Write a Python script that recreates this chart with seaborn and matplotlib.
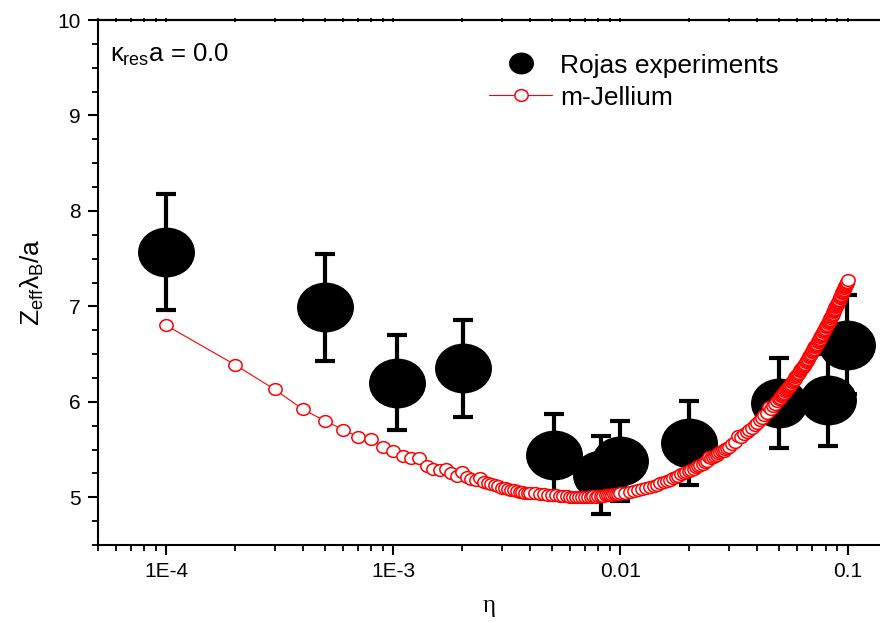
import matplotlib
matplotlib.use("Agg")
import matplotlib.pyplot as plt
import seaborn as sns
from matplotlib.path import Path
from matplotlib.transforms import Affine2D
from matplotlib.lines import Line2D
from matplotlib.ticker import LogLocator, MultipleLocator, NullFormatter

# ---------------- data ----------------
# Rojas experiments
eta_exp = [1.0e-4, 5.0e-4, 1.04e-3, 2.03e-3, 5.1e-3, 8.2e-3, 1.0e-2, 2.0e-2, 5.0e-2, 8.2e-2, 9.9e-2]
z_exp = [7.57, 6.99, 6.20, 6.35, 5.44, 5.23, 5.38, 5.57, 5.99, 6.02, 6.60]
err_exp = [0.61, 0.56, 0.50, 0.51, 0.43, 0.41, 0.42, 0.44, 0.47, 0.48, 0.52]

# m-Jellium curve (segment by segment)
eta_a = [0.0001, 0.0002, 0.0003, 0.0004, 0.0005, 0.0006, 0.0007, 0.0008, 0.0009, 0.0010,
         0.0011, 0.0012, 0.0013, 0.0014, 0.0015, 0.0016, 0.0017, 0.0018, 0.0019, 0.0020]
z_a = [6.80, 6.39, 6.13, 5.92, 5.80, 5.71, 5.63, 5.61, 5.53, 5.48,
       5.43, 5.41, 5.41, 5.33, 5.30, 5.29, 5.30, 5.25, 5.22, 5.27]

eta_b = [0.0021, 0.0022, 0.0023, 0.0024, 0.0025, 0.0026, 0.0027, 0.0028, 0.0029, 0.0030,
         0.0031, 0.0032, 0.0033, 0.0034, 0.0035, 0.0036, 0.0037, 0.0038, 0.0039, 0.0040]
z_b = [5.21, 5.19, 5.18, 5.20, 5.16, 5.15, 5.14, 5.13, 5.12, 5.10,
       5.10, 5.09, 5.08, 5.08, 5.07, 5.06, 5.06, 5.05, 5.05, 5.04]

eta_c = [0.0042, 0.0044, 0.0046, 0.0048, 0.0050, 0.0052, 0.0054, 0.0056, 0.0058, 0.0060,
         0.0062, 0.0064, 0.0066, 0.0068, 0.0070, 0.0072, 0.0074, 0.0076, 0.0078, 0.0080,
         0.0082, 0.0084, 0.0086, 0.0088, 0.0090, 0.0092, 0.0094, 0.0096, 0.0098, 0.0100]
z_c = [5.04, 5.03, 5.03, 5.02, 5.02, 5.02, 5.01, 5.01, 5.01, 5.00,
       5.00, 5.00, 5.00, 5.00, 5.00, 5.00, 5.00, 5.01, 5.00, 5.01,
       5.01, 5.01, 5.02, 5.02, 5.02, 5.02, 5.03, 5.03, 5.03, 5.04]

eta_d = [0.0105, 0.0110, 0.0115, 0.0120, 0.0125, 0.0130, 0.0135, 0.0140, 0.0145, 0.0150,
         0.0155, 0.0160, 0.0165, 0.0170, 0.0175, 0.0180, 0.0185, 0.0190, 0.0195, 0.0200,
         0.0205, 0.0210, 0.0215, 0.0220, 0.0225, 0.0230, 0.0235, 0.0240, 0.0245, 0.0250,
         0.0255, 0.0260, 0.0265, 0.0270, 0.0275, 0.0280, 0.0285, 0.0290, 0.0295, 0.0300]
z_d = [5.05, 5.06, 5.07, 5.08, 5.09, 5.10, 5.11, 5.12, 5.13, 5.15,
       5.16, 5.17, 5.18, 5.20, 5.21, 5.22, 5.24, 5.25, 5.26, 5.28,
       5.29, 5.30, 5.32, 5.33, 5.34, 5.35, 5.37, 5.38, 5.42, 5.41,
       5.42, 5.43, 5.44, 5.46, 5.47, 5.48, 5.49, 5.51, 5.52, 5.53]

eta_e = [0.031, 0.032, 0.033, 0.034, 0.035, 0.036, 0.037, 0.038, 0.039, 0.040,
         0.041, 0.042, 0.043, 0.044, 0.045, 0.046, 0.047, 0.048, 0.049, 0.050]
z_e = [5.56, 5.58, 5.64, 5.63, 5.66, 5.68, 5.71, 5.73, 5.76, 5.78,
       5.81, 5.83, 5.86, 5.88, 5.95, 5.93, 5.96, 5.98, 6.01, 6.03]

eta_f = [0.0505, 0.0510, 0.0515, 0.0520, 0.0525, 0.0530, 0.0535, 0.0540, 0.0545, 0.0550,
         0.0555, 0.0560, 0.0565, 0.0570, 0.0575, 0.0580, 0.0585, 0.0590, 0.0595, 0.0600,
         0.0605, 0.0610, 0.0615, 0.0620, 0.0625, 0.0630, 0.0635, 0.0640, 0.0645, 0.0650,
         0.0655, 0.0660, 0.0665, 0.0670, 0.0675, 0.0680, 0.0685, 0.0690, 0.0695, 0.0700,
         0.0705, 0.0710, 0.0715, 0.0720, 0.0725, 0.0730, 0.0735, 0.0740, 0.0745, 0.0750,
         0.0755, 0.0760, 0.0765, 0.0770, 0.0775, 0.0780, 0.0785, 0.0790, 0.0795, 0.0800,
         0.0805, 0.0810, 0.0815, 0.0820, 0.0825, 0.0830, 0.0835, 0.0840, 0.0845, 0.0850,
         0.0855, 0.0860, 0.0865, 0.0870, 0.0875, 0.0880, 0.0885, 0.0890, 0.0895, 0.0900,
         0.0905, 0.0910, 0.0915, 0.0920, 0.0925, 0.0930, 0.0935, 0.0940, 0.0945, 0.0950,
         0.0955, 0.0960, 0.0965, 0.0970, 0.0975, 0.0980, 0.0985, 0.0990, 0.0995, 0.1000]
z_f = [6.04, 6.06, 6.07, 6.08, 6.09, 6.11, 6.12, 6.13, 6.14, 6.16,
       6.17, 6.18, 6.19, 6.21, 6.22, 6.23, 6.24, 6.26, 6.27, 6.28,
       6.29, 6.30, 6.32, 6.33, 6.34, 6.35, 6.37, 6.38, 6.39, 6.40,
       6.42, 6.43, 6.44, 6.45, 6.47, 6.48, 6.49, 6.50, 6.52, 6.53,
       6.54, 6.55, 6.57, 6.58, 6.59, 6.60, 6.61, 6.63, 6.64, 6.65,
       6.66, 6.68, 6.69, 6.70, 6.71, 6.73, 6.74, 6.75, 6.76, 6.78,
       6.79, 6.80, 6.81, 6.83, 6.84, 6.85, 6.86, 6.88, 6.89, 6.90,
       6.91, 6.92, 6.94, 6.95, 6.96, 6.97, 6.99, 7.00, 7.01, 7.02,
       7.04, 7.05, 7.06, 7.07, 7.09, 7.10, 7.11, 7.12, 7.14, 7.15,
       7.16, 7.17, 7.19, 7.20, 7.21, 7.22, 7.23, 7.25, 7.26, 7.28]

eta_jel = eta_a + eta_b + eta_c + eta_d + eta_e + eta_f
z_jel = z_a + z_b + z_c + z_d + z_e + z_f

x_ticks = [1e-4, 1e-3, 1e-2, 1e-1]
x_ticklabels = ["1E-4", "1E-3", "0.01", "0.1"]
y_ticks = [5, 6, 7, 8, 9, 10]

# ---------------- style ----------------
sns.set_style("ticks")
plt.rcParams["font.family"] = ["Liberation Sans", "DejaVu Sans"]
plt.rcParams["mathtext.fontset"] = "custom"
plt.rcParams["mathtext.rm"] = "Liberation Sans"
plt.rcParams["mathtext.it"] = "Liberation Sans"
plt.rcParams["mathtext.bf"] = "Liberation Sans:bold"
plt.rcParams["axes.edgecolor"] = "black"
plt.rcParams["xtick.color"] = "black"
plt.rcParams["ytick.color"] = "black"
plt.rcParams["text.color"] = "black"
plt.rcParams["axes.labelcolor"] = "black"

fig = plt.figure(figsize=(8.8, 6.22), dpi=100)
ax = fig.add_axes([98 / 880, 1 - 545 / 622, 1 - 98 / 880, (545 - 20) / 622])

# elliptical markers (source image is slightly stretched horizontally)
ell_big = Path.unit_circle().transformed(Affine2D().scale(1.0, 0.875))
ell_small = Path.unit_circle().transformed(Affine2D().scale(1.0, 0.88))

ax.errorbar(eta_exp, z_exp, yerr=err_exp, fmt="none", ecolor="black",
            elinewidth=3.0, capsize=7.5, capthick=3.0, zorder=2)
sns.scatterplot(x=eta_exp, y=z_exp, marker=ell_big, s=41 ** 2, color="black",
                edgecolor="black", linewidth=0, zorder=3, ax=ax, legend=False)
sns.lineplot(x=eta_jel, y=z_jel, sort=False, estimator=None, color="red",
             linewidth=0.8, marker=ell_small, markersize=9.6,
             markerfacecolor="white", markeredgecolor="red", markeredgewidth=1.1,
             zorder=4, ax=ax, legend=False)

ax.set_xscale("log")
ax.set_xlim(5e-5, 0.139)
ax.set_ylim(4.5, 10)
ax.set_xticks(x_ticks, x_ticklabels)
ax.xaxis.set_minor_locator(LogLocator(base=10, subs=[2, 3, 4, 5, 6, 7, 8, 9], numticks=20))
ax.xaxis.set_minor_formatter(NullFormatter())
ax.set_yticks(y_ticks)
ax.yaxis.set_minor_locator(MultipleLocator(0.25))

for s in ["left", "bottom", "top"]:
    ax.spines[s].set_linewidth(1.5)
ax.spines["right"].set_visible(False)
ax.tick_params(axis="both", which="major", direction="out", length=7.5, width=1.5,
               labelsize=15, pad=5)
ax.tick_params(axis="both", which="minor", direction="out", length=4, width=1.3)
ax.tick_params(axis="x", which="both", top=False)
ax.tick_params(axis="y", which="both", right=False)

sec = ax.secondary_xaxis("top")
sec.set_xticks(x_ticks)
sec.xaxis.set_minor_locator(LogLocator(base=10, subs=[2, 3, 4, 5, 6, 7, 8, 9], numticks=20))
sec.xaxis.set_minor_formatter(NullFormatter())
sec.tick_params(axis="x", which="both", direction="inout", length=3, width=1.2,
                labeltop=False)
sec.spines["top"].set_linewidth(1.5)

ax.set_xlabel("η", family=["Liberation Serif", "DejaVu Serif"], fontsize=18, labelpad=10)
ax.set_ylabel(r"$Z_{eff}\lambda_{B}/a$", fontsize=19, labelpad=8)

ax.text(0.015, 0.933, r"$\kappa_{res}$a = 0.0", transform=ax.transAxes,
        fontsize=18.5, va="center", ha="left")

h_exp = Line2D([], [], linestyle="none", marker=ell_big, markersize=18,
               color="black", markeredgewidth=0)
h_jel = Line2D([], [], color="red", linewidth=0.8, marker=ell_small, markersize=9.6,
               markerfacecolor="white", markeredgecolor="red", markeredgewidth=1.1)
ax.legend([h_exp, h_jel], ["Rojas experiments", "m-Jellium"], loc="upper left",
          bbox_to_anchor=(0.50, 0.936), frameon=False, fontsize=19,
          handlelength=2.4, handletextpad=0.3, labelspacing=0.3, borderpad=0,
          borderaxespad=0)

fig.savefig("out.png", dpi=100)
